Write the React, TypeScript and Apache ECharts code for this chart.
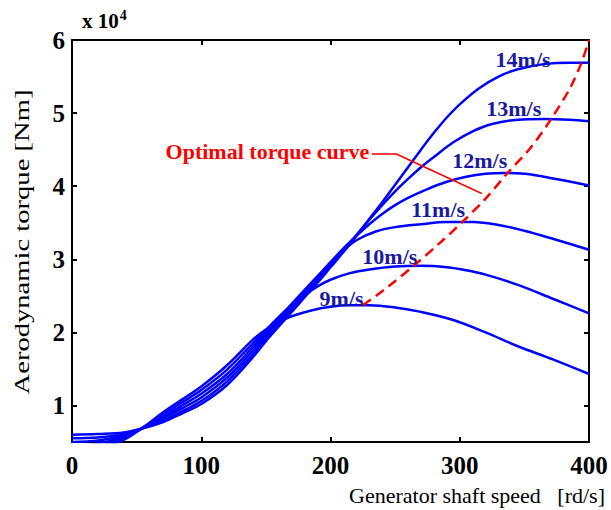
import React, { useEffect, useRef } from 'react';
import * as echarts from 'echarts';

const FONT = '"Liberation Serif", "Times New Roman", serif';

const xTicks = [0, 100, 200, 300, 400];
const yTicks = [1, 2, 3, 4, 5, 6];

// torque in units of 10^4 Nm vs generator speed (rd/s)
const curve9 = [[0,0.35],[20,0.40],[40,0.53],[55,0.70],[70,0.90],[85,1.08],[100,1.26],[120,1.55],[140,1.90],[150,2.04],[160,2.14],[170,2.22],[185,2.3],[200,2.35],[215,2.37],[230,2.37],[250,2.34],[270,2.28],[295,2.17],[320,2.0],[345,1.81],[372,1.63],[400,1.43]];
const curve10 = [[0,0.40],[20,0.44],[40,0.55],[55,0.70],[70,0.87],[85,1.04],[100,1.21],[120,1.49],[140,1.85],[150,2.03],[160,2.21],[170,2.37],[180,2.51],[190,2.63],[200,2.72],[215,2.81],[230,2.86],[250,2.9],[270,2.91],[290,2.89],[305,2.85],[320,2.79],[345,2.65],[372,2.46],[400,2.26]];
const curve11 = [[0,0.45],[20,0.48],[40,0.57],[55,0.69],[70,0.84],[85,1.0],[100,1.16],[120,1.43],[140,1.80],[150,2.0],[160,2.2],[170,2.39],[180,2.58],[190,2.77],[200,2.95],[210,3.12],[220,3.26],[235,3.38],[250,3.44],[270,3.48],[290,3.51],[310,3.51],[330,3.47],[350,3.39],[372,3.28],[400,3.13]];
const curve12 = [[0,0.50],[20,0.52],[40,0.59],[55,0.69],[70,0.82],[85,0.96],[100,1.11],[120,1.38],[140,1.75],[150,1.96],[160,2.16],[170,2.36],[180,2.56],[190,2.76],[200,2.96],[210,3.15],[220,3.32],[230,3.48],[240,3.62],[250,3.74],[260,3.84],[275,3.96],[290,4.06],[305,4.13],[320,4.17],[335,4.18],[350,4.17],[365,4.13],[380,4.08],[400,4.01]];
const curve13 = [[0,0.55],[20,0.56],[40,0.61],[55,0.69],[70,0.79],[85,0.92],[100,1.06],[120,1.33],[140,1.70],[150,1.92],[160,2.12],[170,2.32],[180,2.52],[190,2.72],[200,2.92],[210,3.12],[220,3.33],[230,3.54],[240,3.74],[250,3.93],[260,4.1],[270,4.26],[280,4.4],[295,4.6],[310,4.75],[325,4.85],[345,4.91],[365,4.92],[385,4.91],[400,4.89]];
const curve14 = [[0,0.60],[20,0.61],[40,0.63],[55,0.69],[70,0.77],[85,0.89],[100,1.02],[120,1.28],[140,1.66],[150,1.88],[160,2.08],[170,2.28],[180,2.48],[190,2.68],[200,2.89],[210,3.1],[220,3.32],[230,3.55],[240,3.78],[250,4.02],[260,4.26],[270,4.5],[280,4.73],[290,4.94],[300,5.12],[315,5.34],[330,5.5],[345,5.6],[365,5.67],[385,5.69],[400,5.69]];

const optimalCurve = [[225,2.37],[245,2.63],[265,2.92],[285,3.23],[302,3.51],[320,3.83],[337,4.18],[355,4.53],[370,4.9],[385,5.33],[394,5.68],[400,6.0]];

const leaderPts = [[232,4.44],[251,4.44],[317,3.9]];

const windNames = ['9m/s', '10m/s', '11m/s', '12m/s', '13m/s', '14m/s'];
const windLabelPos = [[208.6,2.47],[245.9,3.04],[283.3,3.68],[315.5,4.35],[341.8,5.06],[349,5.74]];
const optimalName = 'Optimal torque curve';
const optimalLabelPos = [151.2, 4.48];

const curves = [curve9, curve10, curve11, curve12, curve13, curve14];

export default function App() {
  const ref = useRef<HTMLDivElement>(null);
  useEffect(() => {
    const chart = echarts.init(ref.current!, null, { renderer: 'svg' });
    const axisLine = { show: true, onZero: false, lineStyle: { color: '#000', width: 2 } };
    const axisTick = { show: true, inside: true, length: 5, lineStyle: { color: '#000', width: 2 } };
    const labelStyle = { fontFamily: FONT, fontWeight: 'bold', fontSize: 25, color: '#000' };

    const lineSeries = curves.map((c, i) => ({
      type: 'line',
      name: windNames[i],
      data: c,
      showSymbol: false,
      symbol: 'none',
      smooth: 0.35,
      lineStyle: { color: '#0000ff', width: 2.5 },
      itemStyle: { color: '#0000ff' },
      z: 3,
    }));

    const textLabel = (color: string) => ({
      show: true, position: 'inside', formatter: '{b}',
      fontFamily: FONT, fontWeight: 'bold', fontSize: 22, color,
      textBorderWidth: 0, opacity: 1,
    });

    const option = {
      animation: false,
      grid: { left: 72, right: 22, top: 40, bottom: 68 },
      xAxis: [
        {
          type: 'value', min: 0, max: 400, interval: 100, position: 'bottom',
          axisLine, axisTick,
          axisLabel: { ...labelStyle, margin: 11 },
          splitLine: { show: false },
        },
        {
          type: 'value', min: 0, max: 400, interval: 100, position: 'top',
          axisLine, axisTick, axisLabel: { show: false }, splitLine: { show: false },
        },
      ],
      yAxis: [
        {
          type: 'value', min: 0.5, max: 6, position: 'left',
          axisLine,
          axisTick: { ...axisTick, customValues: yTicks },
          axisLabel: { ...labelStyle, margin: 7, customValues: yTicks },
          splitLine: { show: false },
        },
        {
          type: 'value', min: 0.5, max: 6, position: 'right',
          axisLine,
          axisTick: { ...axisTick, customValues: yTicks },
          axisLabel: { show: false, customValues: yTicks },
          splitLine: { show: false },
        },
      ],
      series: [
        ...lineSeries,
        {
          type: 'line', name: 'optimal', data: optimalCurve, showSymbol: false, symbol: 'none',
          smooth: 0.3,
          lineStyle: { color: '#ff0000', width: 2.5, type: [10, 6] }, z: 4,
        },
        {
          type: 'line', name: 'leader', data: leaderPts, showSymbol: false, symbol: 'none',
          lineStyle: { color: '#ff0000', width: 1.5 }, z: 4,
        },
        {
          type: 'scatter', name: 'windLabels', symbolSize: 1,
          itemStyle: { color: 'rgba(0,0,0,0)', opacity: 1 },
          data: windNames.map((n, i) => ({ name: n, value: windLabelPos[i] })),
          label: textLabel('#1a1aa0'),
          z: 5,
        },
        {
          type: 'scatter', name: 'optLabel', symbolSize: 1,
          itemStyle: { color: 'rgba(0,0,0,0)', opacity: 1 },
          data: [{ name: optimalName, value: optimalLabelPos }],
          label: textLabel('#ff0000'),
          z: 5,
        },
      ],
      graphic: [
        {
          type: 'text', left: 82, top: 8,
          style: {
            text: '{a|x 10}{b|4}',
            rich: {
              a: { fontFamily: FONT, fontWeight: 'bold', fontSize: 21, fill: '#000' },
              b: { fontFamily: FONT, fontWeight: 'bold', fontSize: 14, fill: '#000', padding: [0, 0, 12, 1] },
            },
          },
        },
        {
          type: 'text', right: 6, top: 484,
          style: {
            text: 'Generator shaft speed   [rd/s]',
            fontFamily: FONT, fontSize: 22, fill: '#000',
          },
        },
        {
          type: 'text', x: 22, y: 242, rotation: Math.PI / 2, scaleX: 1.3, scaleY: 1,
          style: {
            text: 'Aerodynamic torque [Nm]',
            fontFamily: FONT, fontSize: 22, fill: '#000',
            align: 'center', verticalAlign: 'middle',
          },
        },
      ],
    };
    chart.setOption(option as any);
    return () => chart.dispose();
  }, []);
  return <div ref={ref} style={{ position: 'fixed', left: 0, top: 0, width: 611, height: 510, background: '#fff' }} />;
}
